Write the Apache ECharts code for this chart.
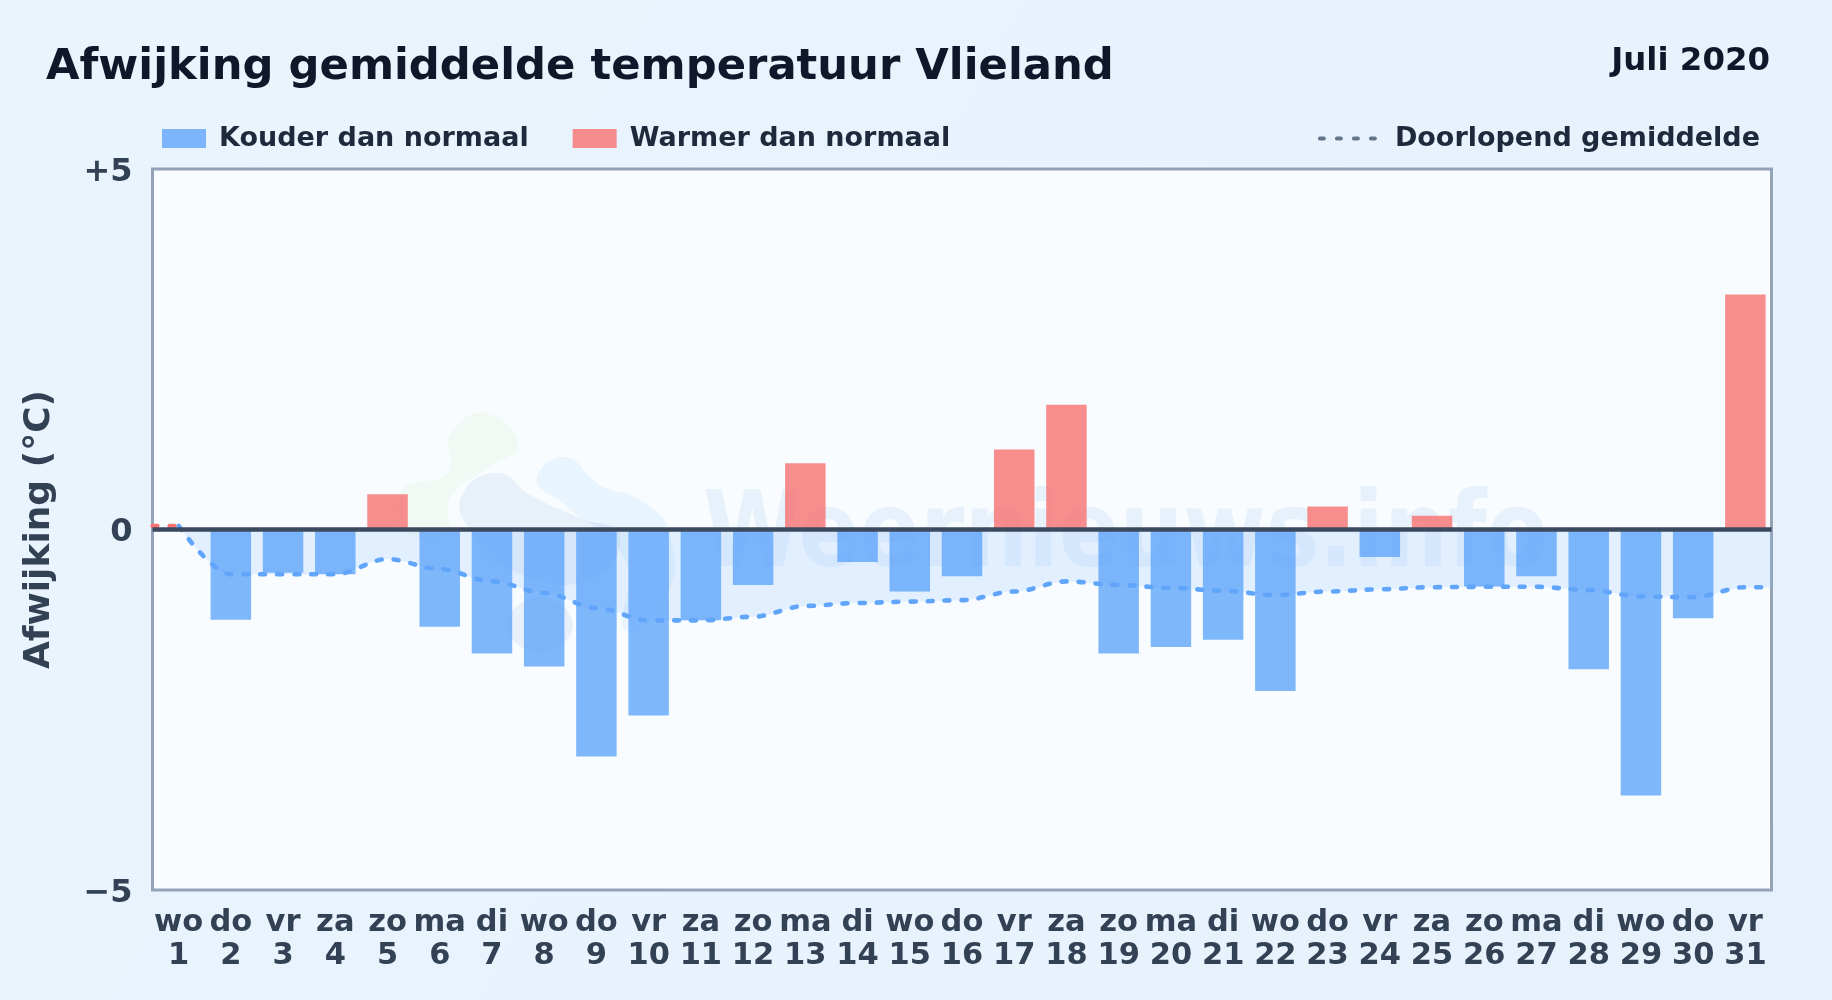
<!DOCTYPE html>
<html><head><meta charset="utf-8">
<style>html,body{margin:0;padding:0;background:#e8f3fc}#c{width:1832px;height:1000px}</style>
<script src="https://cdn.jsdelivr.net/npm/echarts@6/dist/echarts.min.js"></script>
</head><body><div id="c"></div>
<script>
const weekdays=['wo','do','vr','za','zo','ma','di','wo','do','vr','za','zo','ma','di','wo','do','vr','za','zo','ma','di','wo','do','vr','za','zo','ma','di','wo','do','vr'];
const days=[1,2,3,4,5,6,7,8,9,10,11,12,13,14,15,16,17,18,19,20,21,22,23,24,25,26,27,28,29,30,31];
const deviation=[0.02,-1.25,-0.6,-0.62,0.49,-1.35,-1.72,-1.9,-3.15,-2.58,-1.26,-0.77,0.92,-0.45,-0.86,-0.65,1.11,1.73,-1.72,-1.63,-1.53,-2.24,0.32,-0.38,0.19,-0.79,-0.65,-1.94,-3.69,-1.23,3.26];
const runningMean=[0.05,-0.62,-0.62,-0.62,-0.41,-0.55,-0.72,-0.88,-1.09,-1.26,-1.26,-1.21,-1.06,-1.02,-1.0,-0.98,-0.86,-0.72,-0.77,-0.81,-0.85,-0.91,-0.86,-0.83,-0.8,-0.795,-0.795,-0.84,-0.93,-0.94,-0.8];
const titleText='Afwijking gemiddelde temperatuur Vlieland';
const periodText='Juli 2020';
const watermarkText='Weernieuws.info';
const FONT='"DejaVu Sans"';

const cats=days.map((d,i)=>weekdays[i]+'\n'+d);
const meanPts=runningMean.map((v,i)=>[i+0.5,v]);
const meanFull=meanPts.concat([[days.length,runningMean[runningMean.length-1]]]);
const blob=(points,fill)=>({type:'polygon',silent:true,z:1,shape:{points,smooth:0.5},style:{fill}});
const chart=echarts.init(document.getElementById('c'),null,{renderer:'canvas'});
chart.setOption({
  animation:false,
  backgroundColor:{type:'linear',x:0,y:0,x2:1,y2:1,colorStops:[{offset:0,color:'#e9f4fd'},{offset:1,color:'#e6f1fc'}]},
  title:[
    {text:titleText,left:46,top:46.5,padding:0,textStyle:{fontFamily:FONT,fontWeight:'bold',fontSize:43.3,color:'#0f172a'}},
    {text:periodText,right:62,top:46,padding:0,textStyle:{fontFamily:FONT,fontWeight:'bold',fontSize:32.4,color:'#0f172a'}}
  ],
  legend:[
    {left:162,top:125,padding:0,itemWidth:44,itemHeight:19,itemGap:44,icon:'rect',data:['Kouder dan normaal','Warmer dan normaal'],
     textStyle:{fontFamily:FONT,fontWeight:'bold',fontSize:27,color:'#1e293b',padding:[0,0,0,8]},selectedMode:false},
    {right:72,top:125,padding:0,itemWidth:55,itemHeight:19,data:['Doorlopend gemiddelde'],
     textStyle:{fontFamily:FONT,fontWeight:'bold',fontSize:27,color:'#1e293b',padding:[0,0,0,15]},selectedMode:false,
     itemStyle:{color:'transparent',opacity:0,borderWidth:0},
     lineStyle:{color:'#64748b',width:4,type:[4,13]}}
  ],
  grid:{left:152.5,right:60.5,top:169,bottom:110,show:true,backgroundColor:'#f8fcff',borderColor:'#94a3b8',borderWidth:3,containLabel:false},
  xAxis:[
    {type:'category',data:cats,axisLine:{show:false},axisTick:{show:false},
     axisLabel:{interval:0,margin:16,fontFamily:FONT,fontWeight:'bold',fontSize:30.5,lineHeight:33.5,color:'#334155'}},
    {type:'value',min:0,max:days.length,show:false}
  ],
  yAxis:{type:'value',min:-5,max:5,interval:5,splitLine:{show:false},axisLine:{show:false},axisTick:{show:false},
    name:'Afwijking (°C)',nameLocation:'middle',nameGap:95,nameRotate:90,
    nameTextStyle:{fontFamily:FONT,fontWeight:'bold',fontSize:36,color:'#334155'},
    axisLabel:{margin:20,verticalAlign:'top',lineHeight:7,fontFamily:FONT,fontWeight:'bold',fontSize:32,color:'#334155',
      formatter:v=>v>0?'+'+v:(v<0?'\u2212'+Math.abs(v):''+v)}},
  graphic:[
    blob([[405,530],[402,490],[448,472],[450,435],[485,413],[518,445],[490,467],[452,495],[445,535]],'rgba(190,230,150,0.10)'),
    blob([[462,495],[498,473],[530,495],[580,518],[620,535],[590,580],[510,570],[470,530]],'rgba(120,160,210,0.12)'),
    blob([[537,480],[565,457],[600,485],[640,500],[670,535],[665,600],[625,630],[625,560],[565,505]],'rgba(120,190,245,0.12)'),
    blob([[507,625],[540,597],[573,625],[540,653]],'rgba(120,160,210,0.12)'),
    {type:'text',silent:true,z:1,x:703,y:486,scaleX:0.853,style:{text:watermarkText,fontFamily:FONT,fontWeight:'bold',fontSize:105,fill:'rgba(90,150,220,0.10)'}}
  ],
  series:[
    {name:'area',type:'line',xAxisIndex:1,data:meanFull,smooth:0.35,smoothMonotone:'x',symbol:'none',z:1,silent:true,
     lineStyle:{width:0},areaStyle:{color:'#93c5fd',opacity:0.22}},
    {name:'Kouder dan normaal',type:'bar',stack:'d',barWidth:40.5,z:2,
     data:deviation.map(v=>v<0?v:null),itemStyle:{color:'rgba(96,165,250,0.8)'},
     markLine:{silent:true,symbol:'none',z:6,label:{show:false},animation:false,
       lineStyle:{color:'#3b4a5f',width:4.5,type:'solid'},data:[{yAxis:0}]}},
    {name:'Warmer dan normaal',type:'bar',stack:'d',barWidth:40.5,z:2,
     data:deviation.map(v=>v>=0?v:null),itemStyle:{color:'rgba(248,113,113,0.8)'}},
    {name:'Doorlopend gemiddelde',type:'line',xAxisIndex:1,data:meanFull,smooth:0.35,smoothMonotone:'x',symbol:'none',z:4,silent:true,
     lineStyle:{color:'#60a5fa',width:4.6,type:[5,12],cap:'round'},itemStyle:{color:'#64748b'}},
    {name:'start',type:'line',xAxisIndex:1,data:[[0,runningMean[0]],[0.5,runningMean[0]]],symbol:'none',z:4,silent:true,
     lineStyle:{color:'#f87171',width:4.2,type:[5,12],cap:'round'}}
  ]
});
</script></body></html>
